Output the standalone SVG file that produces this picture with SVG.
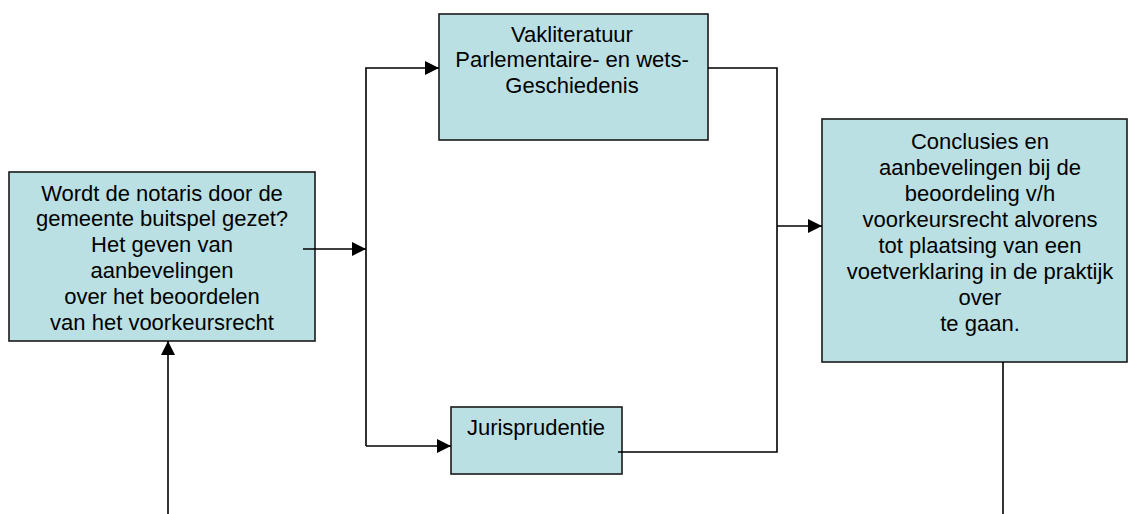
<svg xmlns="http://www.w3.org/2000/svg" width="1128" height="514" viewBox="0 0 1128 514">
<style>
.box{fill:#bbe0e3;stroke:#1a1a1a;stroke-width:1.6}
.t{font-family:"Liberation Sans",Arial,sans-serif;font-size:22px;fill:#000;text-anchor:middle}
.c{fill:none;stroke:#000;stroke-width:1.6}
</style>
<defs>
<marker id="arr" markerUnits="userSpaceOnUse" markerWidth="16" markerHeight="16" refX="14" refY="7" orient="auto">
<path d="M0,0 L14,7 L0,14 Z" fill="#000"/>
</marker>
</defs>
<rect width="1128" height="514" fill="#fff"/>
<g id="n-vraag">
<rect class="box" x="9" y="172" width="306" height="169"/>
<text class="t" x="162" y="200.5">Wordt de notaris door de</text>
<text class="t" x="162" y="226.4">gemeente buitspel gezet?</text>
<text class="t" x="162" y="252.3">Het geven van</text>
<text class="t" x="162" y="278.2">aanbevelingen</text>
<text class="t" x="162" y="304.1">over het beoordelen</text>
<text class="t" x="162" y="330">van het voorkeursrecht</text>
</g>
<g id="n-vakliteratuur">
<rect class="box" x="439" y="14" width="269" height="126"/>
<text class="t" x="572" y="41.5">Vakliteratuur</text>
<text class="t" x="572" y="67.3">Parlementaire- en wets-</text>
<text class="t" x="572" y="93">Geschiedenis</text>
</g>
<g id="n-jurisprudentie">
<rect class="box" x="451" y="407" width="171" height="67"/>
<text class="t" x="536" y="435">Jurisprudentie</text>
</g>
<g id="n-conclusies">
<rect class="box" x="822" y="119" width="305" height="243"/>
<text class="t" x="980" y="149">Conclusies en</text>
<text class="t" x="980" y="175">aanbevelingen bij de</text>
<text class="t" x="980" y="201">beoordeling v/h</text>
<text class="t" x="980" y="227"> voorkeursrecht alvorens</text>
<text class="t" x="980" y="253">tot plaatsing van een</text>
<text class="t" x="980" y="279">voetverklaring in de praktijk</text>
<text class="t" x="980" y="305">over</text>
<text class="t" x="980" y="331">te gaan.</text>
</g>
<g id="connectors">
<path class="c" d="M303,249 H366" marker-end="url(#arr)"/>
<path class="c" d="M366,446 V68 H439" marker-end="url(#arr)"/>
<path class="c" d="M366,446 H451" marker-end="url(#arr)"/>
<path class="c" d="M708,68 H777 V452 H618"/>
<path class="c" d="M777,226 H822" marker-end="url(#arr)"/>
<path class="c" d="M168,514 V341" marker-end="url(#arr)"/>
<path class="c" d="M1003,362 V514"/>
</g>
</svg>
